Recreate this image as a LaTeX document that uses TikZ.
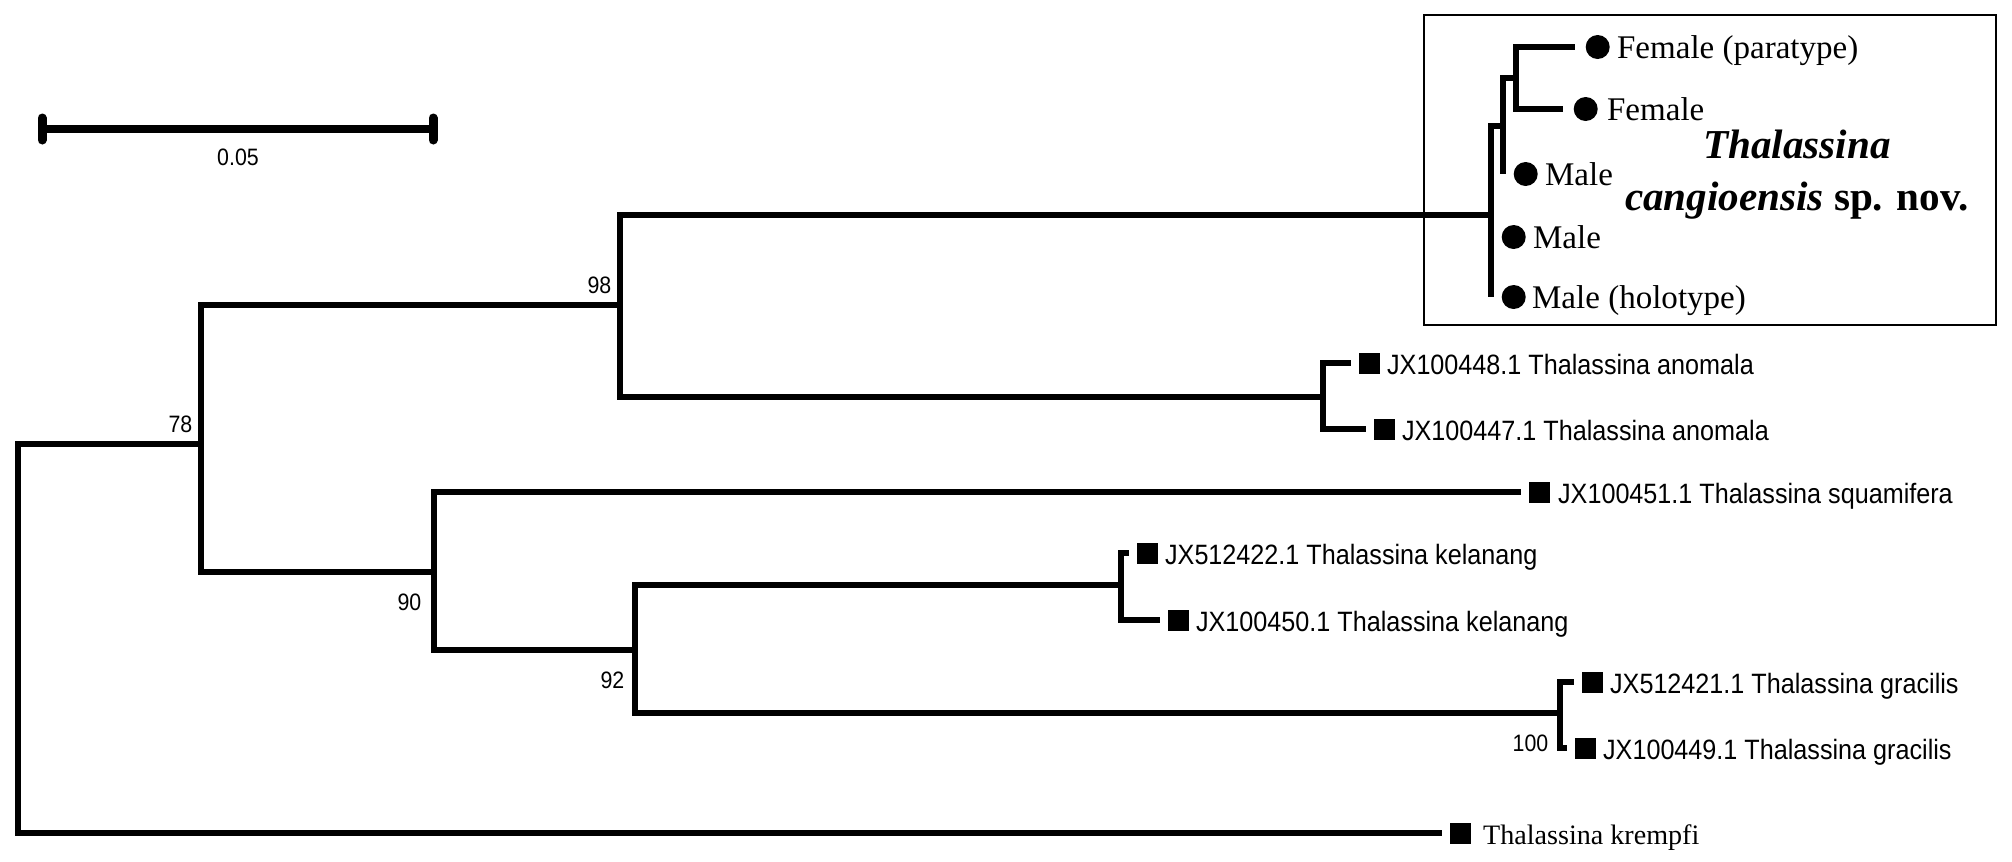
\documentclass[tikz,border=0pt]{standalone}
\usepackage{fontspec}
\setmainfont{Liberation Serif}
\newfontfamily\megafont[FakeStretch=0.9]{Liberation Sans}
\usetikzlibrary{positioning}

\begin{document}
\begin{tikzpicture}[x=0.1mm,y=-0.1mm,
  br/.style={line width=0.58mm,line join=miter},
  sbbar/.style={line width=0.8mm},
  sbtick/.style={line width=0.9mm,line cap=round},
  sq/.style={fill,minimum size=2.1mm,inner sep=0},
  spot/.style={circle,fill,minimum size=2.4mm,inner sep=0},
  acc/.style={font=\megafont\fontsize{7.96}{9}\selectfont,inner sep=0,text height=1.4ex,text depth=0pt},
  bs/.style={font=\megafont\fontsize{6.75}{8}\selectfont,inner sep=0,text height=1.4ex,text depth=0pt},
  sex/.style={font=\fontsize{9.4}{11}\selectfont,inner sep=0,text height=1.4ex,text depth=0pt},
  spn/.style={font=\bfseries\fontsize{11.7}{14}\selectfont,inner sep=0,anchor=base}]
  \useasboundingbox (0,0) rectangle (2012,862);
  \coordinate (r) at (18,638);
  \coordinate (n78) at (201,444);
  \coordinate (n98) at (620,305);
  \coordinate (nc) at (1491,215);
  \coordinate (ni) at (1503,126);
  \coordinate (nf) at (1516,78);
  \coordinate (lfp) at (1575,47);
  \coordinate (lf) at (1563,109);
  \coordinate (lm1) at (1503,174);
  \coordinate (lm2) at (1491,237);
  \coordinate (lm3) at (1491,297);
  \coordinate (nan) at (1323,397);
  \coordinate (la1) at (1351,363);
  \coordinate (la2) at (1366,429);
  \coordinate (n90) at (434,572);
  \coordinate (lsq) at (1521,492);
  \coordinate (n92) at (635,650);
  \coordinate (nke) at (1121,585);
  \coordinate (lk1) at (1129,553);
  \coordinate (lk2) at (1160,620);
  \coordinate (ngr) at (1560,713);
  \coordinate (lg1) at (1574,682);
  \coordinate (lg2) at (1567,748);
  \coordinate (lkr) at (1442,833);
  \draw[br] (r) |- (n78);
  \draw[br] (r) |- (lkr);
  \draw[br] (n78) |- (n98);
  \draw[br] (n78) |- (n90);
  \draw[br] (n98) |- (nc);
  \draw[br] (n98) |- (nan);
  \draw[br] (nc) |- (ni);
  \draw[br] (nc) -- (lm3);
  \draw[br] (ni) |- (nf);
  \draw[br] (ni) -- (lm1);
  \draw[br] (nf) |- (lfp);
  \draw[br] (nf) |- (lf);
  \draw[br] (nan) |- (la1);
  \draw[br] (nan) |- (la2);
  \draw[br] (n90) |- (lsq);
  \draw[br] (n90) |- (n92);
  \draw[br] (n92) |- (nke);
  \draw[br] (n92) |- (ngr);
  \draw[br] (nke) |- (lk1);
  \draw[br] (nke) |- (lk2);
  \draw[br] (ngr) |- (lg1);
  \draw[br] (ngr) |- (lg2);
  \node[bs, above left=1.1mm and 0.8mm of n78] (b78) {78};
  \node[bs, above left=1.1mm and 0.8mm of n98] (b98) {98};
  \node[bs, below left=1.5mm and 1.2mm of n90] (b90) {90};
  \node[bs, below left=1.5mm and 1.0mm of n92] (b92) {92};
  \node[bs, below left=1.5mm and 1.1mm of ngr] (b100) {100};
  \draw[line width=0.5pt] (1424,15) rectangle (1996,325);
  \node[spot, right=1mm of lfp] (dfp) {};
  \node[spot, right=1mm of lf] (df) {};
  \node[spot, right=1mm of lm1] (dm1) {};
  \node[spot, right=1mm of lm2] (dm2) {};
  \node[spot, right=1mm of lm3] (dm3) {};
  \node[sex, right=0.6mm of dfp] (tfp) {Female (paratype)};
  \node[sex, right=0.8mm of df] (tf) {Female};
  \node[sex, right=0.6mm of dm1] (tm1) {Male};
  \node[sex, right=0.6mm of dm2] (tm2) {Male};
  \node[sex, right=0.5mm of dm3] (tm3) {Male (holotype)};
  \node[spn] (spa) at (1797,158) {\textit{Thalassina}};
  \node[spn] (spb) at (1797,210) {\textit{cangioensis} sp. nov.};
  \node[sq, right=0.7mm of la1] (sa1) {};
  \node[sq, right=0.7mm of la2] (sa2) {};
  \node[sq, right=0.7mm of lsq] (ssq) {};
  \node[sq, right=0.7mm of lk1] (sk1) {};
  \node[sq, right=0.7mm of lk2] (sk2) {};
  \node[sq, right=0.7mm of lg1] (sg1) {};
  \node[sq, right=0.7mm of lg2] (sg2) {};
  \node[sq, right=0.7mm of lkr] (skr) {};
  \node[acc, right=0.6mm of sa1] (ta1) {JX100448.1 Thalassina anomala};
  \node[acc, right=0.6mm of sa2] (ta2) {JX100447.1 Thalassina anomala};
  \node[acc, right=0.7mm of ssq] (tsq) {JX100451.1 Thalassina squamifera};
  \node[acc, right=0.6mm of sk1] (tk1) {JX512422.1 Thalassina kelanang};
  \node[acc, right=0.6mm of sk2] (tk2) {JX100450.1 Thalassina kelanang};
  \node[acc, right=0.6mm of sg1] (tg1) {JX512421.1 Thalassina gracilis};
  \node[acc, right=0.6mm of sg2] (tg2) {JX100449.1 Thalassina gracilis};
  \node[sex, font=\fontsize{8}{10}\selectfont, right=1.1mm of skr] (tkr) {Thalassina krempfi};
  \coordinate (sbl) at (42,129);
  \coordinate (sbr) at (433,129);
  \coordinate (sbm) at (238,129);
  \draw[sbbar] (sbl) -- (sbr);
  \draw[sbtick] (42,118) -- (42,140);
  \draw[sbtick] (433,118) -- (433,140);
  \node[bs, below=1.3mm of sbm] (sbt) {0.05};
\end{tikzpicture}
\end{document}
